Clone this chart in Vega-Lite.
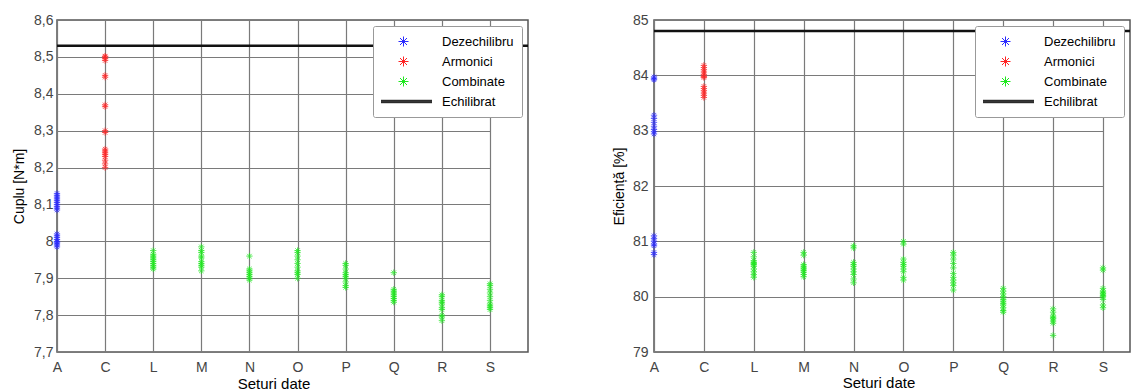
{
  "$schema": "https://vega.github.io/schema/vega-lite/v6.json",
  "padding": {"left": 11, "top": 12, "right": 0, "bottom": 0},
  "spacing": 81,
  "background": "white",
  "config": {
    "font": "Liberation Sans",
    "view": {"stroke": "#555", "strokeWidth": 1.5},
    "point": {"filled": false, "opacity": 0.75, "size": 40, "strokeWidth": 1},
    "axis": {
      "grid": true, "gridColor": "#7a7a7a", "gridWidth": 1.2, "gridOpacity": 1,
      "domain": false, "ticks": false, "labelOverlap": false,
      "labelFont": "Liberation Sans", "labelFontSize": 14, "labelColor": "#444",
      "titleFont": "Liberation Sans", "titleFontSize": 14, "titleFontWeight": "normal", "titleColor": "#000"
    },
    "legend": {
      "orient": "top-right", "offset": 6, "fillColor": "white", "strokeColor": "#999",
      "padding": 8, "rowPadding": 5, "clipHeight": 15, "labelFont": "Liberation Sans",
      "labelFontSize": 13, "labelColor": "#000", "labelOffset": 32, "symbolOffset": 16,
      "symbolStrokeWidth": 1, "cornerRadius": 2
    }
  },
  "datasets": {
    "cuplu": [
      {"s":"A","g":"Dezechilibru","v":8.13},{"s":"A","g":"Dezechilibru","v":8.125},{"s":"A","g":"Dezechilibru","v":8.12},{"s":"A","g":"Dezechilibru","v":8.115},{"s":"A","g":"Dezechilibru","v":8.11},{"s":"A","g":"Dezechilibru","v":8.105},{"s":"A","g":"Dezechilibru","v":8.1},{"s":"A","g":"Dezechilibru","v":8.095},{"s":"A","g":"Dezechilibru","v":8.09},{"s":"A","g":"Dezechilibru","v":8.085},
      {"s":"A","g":"Dezechilibru","v":8.02},{"s":"A","g":"Dezechilibru","v":8.015},{"s":"A","g":"Dezechilibru","v":8.01},{"s":"A","g":"Dezechilibru","v":8.005},{"s":"A","g":"Dezechilibru","v":8.0},{"s":"A","g":"Dezechilibru","v":7.998},{"s":"A","g":"Dezechilibru","v":7.995},{"s":"A","g":"Dezechilibru","v":7.99},{"s":"A","g":"Dezechilibru","v":7.985},
      {"s":"C","g":"Armonici","v":8.5},{"s":"C","g":"Armonici","v":8.502},{"s":"C","g":"Armonici","v":8.495},{"s":"C","g":"Armonici","v":8.49},{"s":"C","g":"Armonici","v":8.45},{"s":"C","g":"Armonici","v":8.445},{"s":"C","g":"Armonici","v":8.37},{"s":"C","g":"Armonici","v":8.365},{"s":"C","g":"Armonici","v":8.3},{"s":"C","g":"Armonici","v":8.295},{"s":"C","g":"Armonici","v":8.25},{"s":"C","g":"Armonici","v":8.245},{"s":"C","g":"Armonici","v":8.24},{"s":"C","g":"Armonici","v":8.235},{"s":"C","g":"Armonici","v":8.23},{"s":"C","g":"Armonici","v":8.22},{"s":"C","g":"Armonici","v":8.21},{"s":"C","g":"Armonici","v":8.2},
      {"s":"L","g":"Combinate","v":7.975},{"s":"L","g":"Combinate","v":7.965},{"s":"L","g":"Combinate","v":7.96},{"s":"L","g":"Combinate","v":7.955},{"s":"L","g":"Combinate","v":7.95},{"s":"L","g":"Combinate","v":7.945},{"s":"L","g":"Combinate","v":7.94},{"s":"L","g":"Combinate","v":7.935},{"s":"L","g":"Combinate","v":7.93},{"s":"L","g":"Combinate","v":7.925},
      {"s":"M","g":"Combinate","v":7.985},{"s":"M","g":"Combinate","v":7.975},{"s":"M","g":"Combinate","v":7.97},{"s":"M","g":"Combinate","v":7.96},{"s":"M","g":"Combinate","v":7.955},{"s":"M","g":"Combinate","v":7.945},{"s":"M","g":"Combinate","v":7.94},{"s":"M","g":"Combinate","v":7.935},{"s":"M","g":"Combinate","v":7.93},{"s":"M","g":"Combinate","v":7.92},
      {"s":"N","g":"Combinate","v":7.96},{"s":"N","g":"Combinate","v":7.925},{"s":"N","g":"Combinate","v":7.92},{"s":"N","g":"Combinate","v":7.915},{"s":"N","g":"Combinate","v":7.91},{"s":"N","g":"Combinate","v":7.905},{"s":"N","g":"Combinate","v":7.9},{"s":"N","g":"Combinate","v":7.895},
      {"s":"O","g":"Combinate","v":7.975},{"s":"O","g":"Combinate","v":7.97},{"s":"O","g":"Combinate","v":7.96},{"s":"O","g":"Combinate","v":7.95},{"s":"O","g":"Combinate","v":7.94},{"s":"O","g":"Combinate","v":7.93},{"s":"O","g":"Combinate","v":7.92},{"s":"O","g":"Combinate","v":7.915},{"s":"O","g":"Combinate","v":7.91},{"s":"O","g":"Combinate","v":7.9},
      {"s":"P","g":"Combinate","v":7.94},{"s":"P","g":"Combinate","v":7.935},{"s":"P","g":"Combinate","v":7.925},{"s":"P","g":"Combinate","v":7.915},{"s":"P","g":"Combinate","v":7.91},{"s":"P","g":"Combinate","v":7.905},{"s":"P","g":"Combinate","v":7.9},{"s":"P","g":"Combinate","v":7.89},{"s":"P","g":"Combinate","v":7.88},{"s":"P","g":"Combinate","v":7.875},
      {"s":"Q","g":"Combinate","v":7.915},{"s":"Q","g":"Combinate","v":7.87},{"s":"Q","g":"Combinate","v":7.865},{"s":"Q","g":"Combinate","v":7.86},{"s":"Q","g":"Combinate","v":7.855},{"s":"Q","g":"Combinate","v":7.85},{"s":"Q","g":"Combinate","v":7.845},{"s":"Q","g":"Combinate","v":7.84},{"s":"Q","g":"Combinate","v":7.835},
      {"s":"R","g":"Combinate","v":7.855},{"s":"R","g":"Combinate","v":7.85},{"s":"R","g":"Combinate","v":7.84},{"s":"R","g":"Combinate","v":7.835},{"s":"R","g":"Combinate","v":7.83},{"s":"R","g":"Combinate","v":7.82},{"s":"R","g":"Combinate","v":7.815},{"s":"R","g":"Combinate","v":7.8},{"s":"R","g":"Combinate","v":7.795},{"s":"R","g":"Combinate","v":7.785},
      {"s":"S","g":"Combinate","v":7.885},{"s":"S","g":"Combinate","v":7.88},{"s":"S","g":"Combinate","v":7.87},{"s":"S","g":"Combinate","v":7.86},{"s":"S","g":"Combinate","v":7.85},{"s":"S","g":"Combinate","v":7.84},{"s":"S","g":"Combinate","v":7.83},{"s":"S","g":"Combinate","v":7.825},{"s":"S","g":"Combinate","v":7.82},{"s":"S","g":"Combinate","v":7.815}
    ],
    "eficienta": [
      {"s":"A","g":"Dezechilibru","v":83.97},{"s":"A","g":"Dezechilibru","v":83.94},{"s":"A","g":"Dezechilibru","v":83.92},{"s":"A","g":"Dezechilibru","v":83.28},{"s":"A","g":"Dezechilibru","v":83.22},{"s":"A","g":"Dezechilibru","v":83.15},{"s":"A","g":"Dezechilibru","v":83.08},{"s":"A","g":"Dezechilibru","v":83.02},{"s":"A","g":"Dezechilibru","v":82.98},{"s":"A","g":"Dezechilibru","v":82.94},
      {"s":"A","g":"Dezechilibru","v":81.1},{"s":"A","g":"Dezechilibru","v":81.05},{"s":"A","g":"Dezechilibru","v":81.0},{"s":"A","g":"Dezechilibru","v":80.95},{"s":"A","g":"Dezechilibru","v":80.92},{"s":"A","g":"Dezechilibru","v":80.8},{"s":"A","g":"Dezechilibru","v":80.76},
      {"s":"C","g":"Armonici","v":84.18},{"s":"C","g":"Armonici","v":84.14},{"s":"C","g":"Armonici","v":84.1},{"s":"C","g":"Armonici","v":84.06},{"s":"C","g":"Armonici","v":84.02},{"s":"C","g":"Armonici","v":83.98},{"s":"C","g":"Armonici","v":83.96},{"s":"C","g":"Armonici","v":83.8},{"s":"C","g":"Armonici","v":83.76},{"s":"C","g":"Armonici","v":83.72},{"s":"C","g":"Armonici","v":83.68},{"s":"C","g":"Armonici","v":83.64},{"s":"C","g":"Armonici","v":83.6},
      {"s":"L","g":"Combinate","v":80.8},{"s":"L","g":"Combinate","v":80.72},{"s":"L","g":"Combinate","v":80.65},{"s":"L","g":"Combinate","v":80.62},{"s":"L","g":"Combinate","v":80.6},{"s":"L","g":"Combinate","v":80.58},{"s":"L","g":"Combinate","v":80.55},{"s":"L","g":"Combinate","v":80.5},{"s":"L","g":"Combinate","v":80.45},{"s":"L","g":"Combinate","v":80.4},{"s":"L","g":"Combinate","v":80.35},
      {"s":"M","g":"Combinate","v":80.8},{"s":"M","g":"Combinate","v":80.75},{"s":"M","g":"Combinate","v":80.58},{"s":"M","g":"Combinate","v":80.55},{"s":"M","g":"Combinate","v":80.52},{"s":"M","g":"Combinate","v":80.5},{"s":"M","g":"Combinate","v":80.47},{"s":"M","g":"Combinate","v":80.44},{"s":"M","g":"Combinate","v":80.4},{"s":"M","g":"Combinate","v":80.36},
      {"s":"N","g":"Combinate","v":80.92},{"s":"N","g":"Combinate","v":80.88},{"s":"N","g":"Combinate","v":80.62},{"s":"N","g":"Combinate","v":80.58},{"s":"N","g":"Combinate","v":80.55},{"s":"N","g":"Combinate","v":80.5},{"s":"N","g":"Combinate","v":80.45},{"s":"N","g":"Combinate","v":80.4},{"s":"N","g":"Combinate","v":80.32},{"s":"N","g":"Combinate","v":80.25},
      {"s":"O","g":"Combinate","v":81.0},{"s":"O","g":"Combinate","v":80.95},{"s":"O","g":"Combinate","v":80.68},{"s":"O","g":"Combinate","v":80.62},{"s":"O","g":"Combinate","v":80.58},{"s":"O","g":"Combinate","v":80.55},{"s":"O","g":"Combinate","v":80.5},{"s":"O","g":"Combinate","v":80.45},{"s":"O","g":"Combinate","v":80.35},{"s":"O","g":"Combinate","v":80.3},
      {"s":"P","g":"Combinate","v":80.8},{"s":"P","g":"Combinate","v":80.75},{"s":"P","g":"Combinate","v":80.68},{"s":"P","g":"Combinate","v":80.6},{"s":"P","g":"Combinate","v":80.52},{"s":"P","g":"Combinate","v":80.42},{"s":"P","g":"Combinate","v":80.35},{"s":"P","g":"Combinate","v":80.3},{"s":"P","g":"Combinate","v":80.25},{"s":"P","g":"Combinate","v":80.2},{"s":"P","g":"Combinate","v":80.12},
      {"s":"Q","g":"Combinate","v":80.15},{"s":"Q","g":"Combinate","v":80.1},{"s":"Q","g":"Combinate","v":80.05},{"s":"Q","g":"Combinate","v":80.0},{"s":"Q","g":"Combinate","v":79.95},{"s":"Q","g":"Combinate","v":79.92},{"s":"Q","g":"Combinate","v":79.88},{"s":"Q","g":"Combinate","v":79.85},{"s":"Q","g":"Combinate","v":79.8},{"s":"Q","g":"Combinate","v":79.75},{"s":"Q","g":"Combinate","v":79.72},
      {"s":"R","g":"Combinate","v":79.78},{"s":"R","g":"Combinate","v":79.72},{"s":"R","g":"Combinate","v":79.65},{"s":"R","g":"Combinate","v":79.62},{"s":"R","g":"Combinate","v":79.6},{"s":"R","g":"Combinate","v":79.56},{"s":"R","g":"Combinate","v":79.52},{"s":"R","g":"Combinate","v":79.3},
      {"s":"S","g":"Combinate","v":80.52},{"s":"S","g":"Combinate","v":80.48},{"s":"S","g":"Combinate","v":80.15},{"s":"S","g":"Combinate","v":80.1},{"s":"S","g":"Combinate","v":80.07},{"s":"S","g":"Combinate","v":80.05},{"s":"S","g":"Combinate","v":80.02},{"s":"S","g":"Combinate","v":80.0},{"s":"S","g":"Combinate","v":79.95},{"s":"S","g":"Combinate","v":79.85},{"s":"S","g":"Combinate","v":79.8}
    ]
  },
  "resolve": {"scale": {"color": "independent", "shape": "independent"}},
  "hconcat": [
    {
      "width": 471, "height": 332,
      "encoding": {
        "y": {"field": "v", "type": "quantitative", "scale": {"domain": [7.7, 8.6], "zero": false, "nice": false},
              "axis": {"title": "Cuplu [N*m]", "values": [7.7,7.8,7.9,8.0,8.1,8.2,8.3,8.4,8.5,8.6], "labelExpr": "replace(format(datum.value,'.1~f'),'.',',')", "labelPadding": 4, "titlePadding": 7}}
      },
      "layer": [
        {
          "data": {"name": "cuplu"},
          "mark": {"type": "point"},
          "encoding": {
            "x": {"field": "s", "type": "nominal", "scale": {"type": "point", "padding": 0, "domain": ["A","C","L","M","N","O","P","Q","R","S"], "range": [0, 433]},
                  "axis": {"title": "Seturi date", "labelAngle": 0, "labelPadding": 8, "titlePadding": 2, "titleFontSize": 15}},
            "color": {"field": "g", "type": "nominal", "scale": {"domain": ["Dezechilibru","Armonici","Combinate","Echilibrat"], "range": ["#2b2bff","#ff2424","#1fe81f","#111111"]}, "legend": {"title": null}},
            "shape": {"field": "g", "type": "nominal", "scale": {"domain": ["Dezechilibru","Armonici","Combinate","Echilibrat"], "range": ["M-1,0L1,0M0,-1L0,1M-0.7,-0.7L0.7,0.7M-0.7,0.7L0.7,-0.7","M-1,0L1,0M0,-1L0,1M-0.7,-0.7L0.7,0.7M-0.7,0.7L0.7,-0.7","M-1,0L1,0M0,-1L0,1M-0.7,-0.7L0.7,0.7M-0.7,0.7L0.7,-0.7","M-5.7,-0.24L5.7,-0.24M-5.7,-0.08L5.7,-0.08M-5.7,0.08L5.7,0.08M-5.7,0.24L5.7,0.24"]}, "legend": {"title": null}}
          }
        },
        {"data": {"values": [{"v": 8.53}]}, "mark": {"type": "rule", "color": "#111111", "strokeWidth": 2.5}, "encoding": {}}
      ]
    },
    {
      "width": 476, "height": 332,
      "encoding": {
        "y": {"field": "v", "type": "quantitative", "scale": {"domain": [79, 85], "zero": false, "nice": false},
              "axis": {"title": "Eficiență [%]", "values": [79,80,81,82,83,84,85], "format": "d", "labelPadding": 6, "titlePadding": 6}}
      },
      "layer": [
        {
          "data": {"name": "eficienta"},
          "mark": {"type": "point"},
          "encoding": {
            "x": {"field": "s", "type": "nominal", "scale": {"type": "point", "padding": 0, "domain": ["A","C","L","M","N","O","P","Q","R","S"], "range": [0, 449]},
                  "axis": {"title": "Seturi date", "labelAngle": 0, "labelPadding": 8, "titlePadding": 1, "titleFontSize": 15}},
            "color": {"field": "g", "type": "nominal", "scale": {"domain": ["Dezechilibru","Armonici","Combinate","Echilibrat"], "range": ["#2b2bff","#ff2424","#1fe81f","#111111"]}, "legend": {"title": null}},
            "shape": {"field": "g", "type": "nominal", "scale": {"domain": ["Dezechilibru","Armonici","Combinate","Echilibrat"], "range": ["M-1,0L1,0M0,-1L0,1M-0.7,-0.7L0.7,0.7M-0.7,0.7L0.7,-0.7","M-1,0L1,0M0,-1L0,1M-0.7,-0.7L0.7,0.7M-0.7,0.7L0.7,-0.7","M-1,0L1,0M0,-1L0,1M-0.7,-0.7L0.7,0.7M-0.7,0.7L0.7,-0.7","M-5.7,-0.24L5.7,-0.24M-5.7,-0.08L5.7,-0.08M-5.7,0.08L5.7,0.08M-5.7,0.24L5.7,0.24"]}, "legend": {"title": null}}
          }
        },
        {"data": {"values": [{"v": 84.8}]}, "mark": {"type": "rule", "color": "#111111", "strokeWidth": 2.5}, "encoding": {}}
      ]
    }
  ]
}
